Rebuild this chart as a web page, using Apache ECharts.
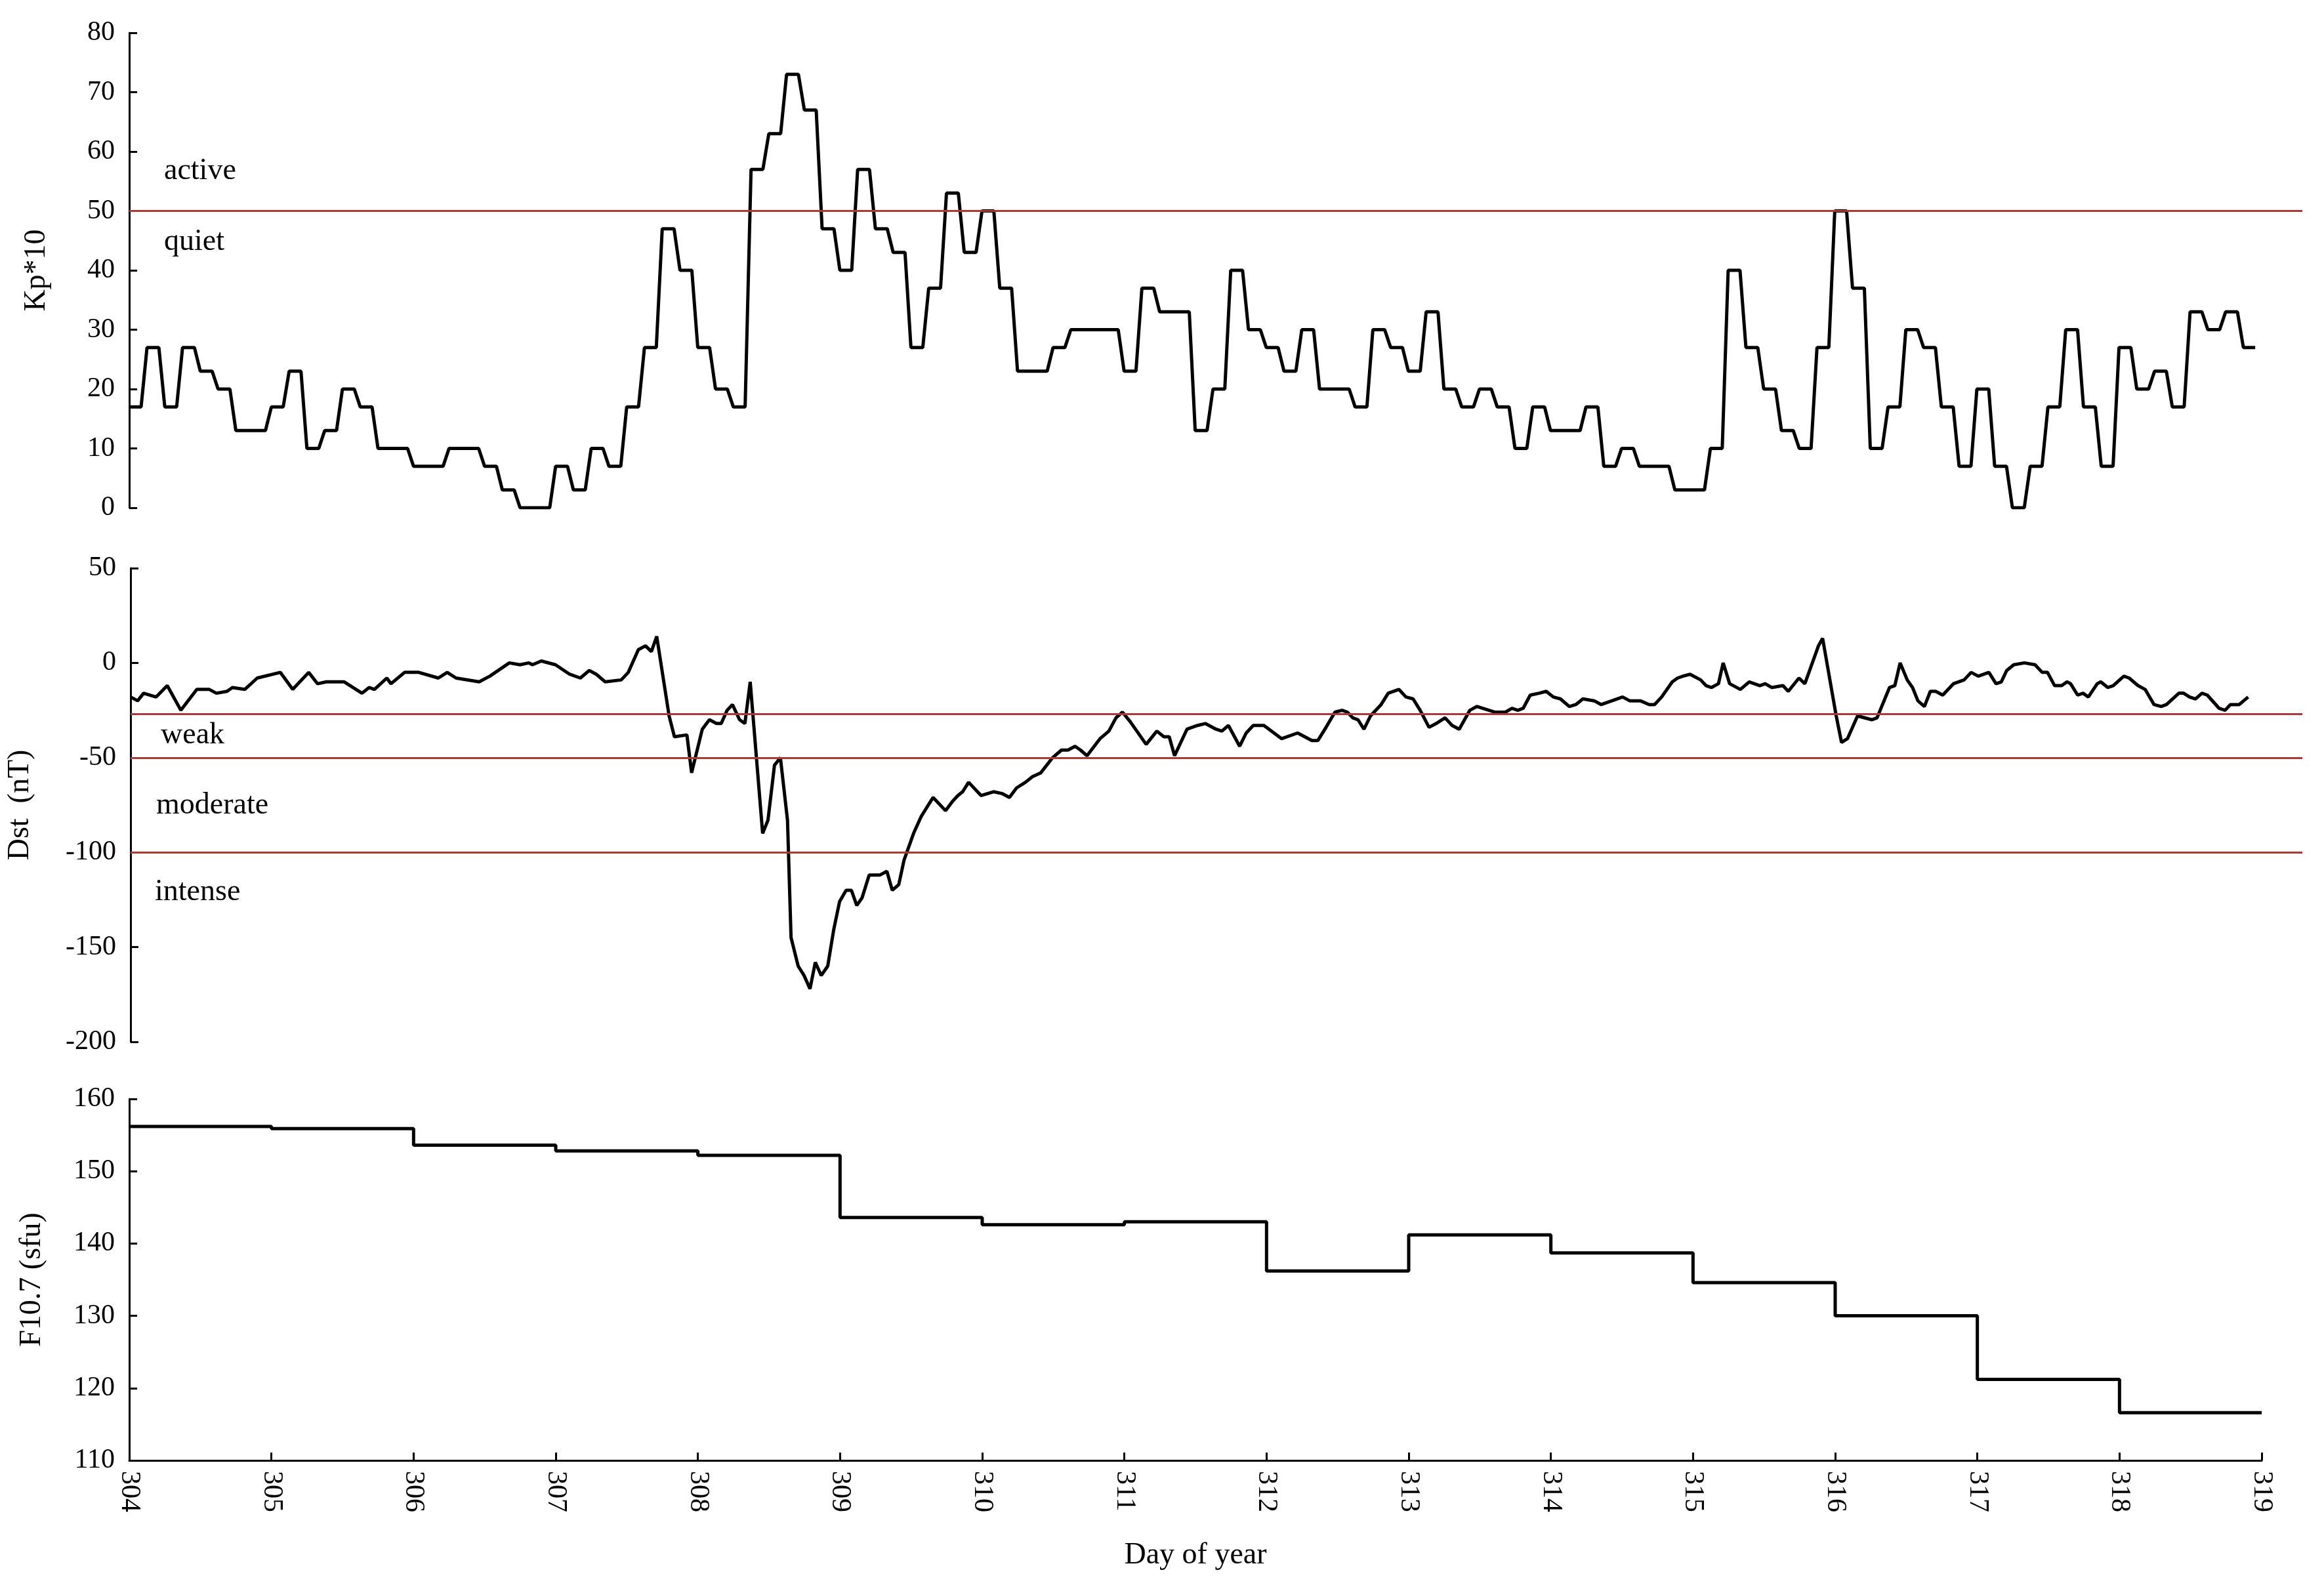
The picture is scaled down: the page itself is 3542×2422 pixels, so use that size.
<!DOCTYPE html>
<html>
<head>
<meta charset="utf-8">
<script src="https://cdn.jsdelivr.net/npm/echarts@6/dist/echarts.min.js"></script>
<style>
  html, body { margin: 0; padding: 0; background: #fff; }
  #chart { width: 3542px; height: 2422px; }
</style>
</head>
<body>
<div id="chart"></div>
<script>
// Kp*10, 3-hourly, days 304..318 (8 values per day)
var kpValues = [
  17,27,17,27,23,20,13,13,
  17,23,10,13,20,17,10,10,
  7,7,10,10,7,3,0,0,
  7,3,10,7,17,27,47,40,
  27,20,17,57,63,73,67,47,
  40,57,47,43,27,37,53,43,
  50,37,23,23,27,30,30,30,
  23,37,33,33,13,20,40,30,
  27,23,30,20,20,17,30,27,
  23,33,20,17,20,17,10,17,
  13,13,17,7,10,7,7,3,
  3,10,40,27,20,13,10,27,
  50,37,10,17,30,27,17,7,
  20,7,0,7,17,30,17,7,
  27,20,23,17,33,30,33,27
];

// Dst (nT): hours since day 304 00:00 and values
var dstHours = [
  0,1.2,2.2,4.3,6.2,8.5,11.2,13.3,14.5,16.3,17.2,19.3,21.4,25.3,27.4,30.1,31.6,33.1,36.1,39.1,
  40.3,41.2,43.3,44,46.3,48.7,52,53.5,55,58.9,60.7,64,65.8,67.3,67.9,69.4,71.8,74.2,76,77.5,
  78.7,80.2,82.9,84.1,85.8,87,88,88.9,91,91.9,94,94.8,96.6,97.8,99,99.8,100.8,101.7,102.9,103.8,
  104.7,106.8,107.7,108.8,109.8,111,111.6,112.8,113.8,114.8,115.7,116.7,117.8,118.8,119.8,120.9,121.8,122.7,123.6,124.8,
  126.6,127.8,128.7,129.8,130.7,132.3,133.6,134.4,135.6,137.7,138.9,139.8,140.6,141.6,143.7,145.8,147.3,148.5,149.7,151.2,
  152.4,153.8,155.8,157.3,158.4,159.6,160.5,161.6,163.8,165.3,166.5,167.6,168.9,171.6,173.4,174.6,175.5,176.4,178.5,180.3,
  181.6,183.4,184.4,185.5,187.4,188.5,189.7,191.5,194.5,197.2,199.6,200.6,202,203.5,204.7,205.6,206.5,207.4,208.4,209.5,
  211.3,212.5,214.3,215.5,216.7,217.9,219.4,220.6,222.1,223.3,224.5,226.3,227.5,230.5,232.3,233.4,234.4,235.3,236.5,238,
  239.2,240.4,241.6,243.1,244.2,245.4,247.3,248.5,250.3,252.1,253.3,255.1,256.6,257.5,258.7,260.5,261.4,262.3,263.5,265.3,
  266.2,267.1,268.3,269.1,270.2,272,273.5,275.3,276.2,277.3,279.2,280.1,281.9,282.9,285.2,285.9,288.2,289.1,290.1,291.8,
  294.2,295.1,297.2,298.1,299,300.2,301.1,302,303.1,304.1,305,306.2,308,309.8,311,312.2,314,315.2,316.1,317,
  318.2,320,321.8,323,323.9,325.1,326.3,327.2,327.8,329,329.9,330.8,332.3,332.9,334.1,335,336.8,337.7,339.2,340.4,
  341.9,343.1,344,346.1,346.9,347.9,348.9,350,350.9,352.9,353.9,354.8,356.3,357.8
];
var dstValues = [
  -18,-20,-16,-18,-12,-25,-14,-14,-16,-15,-13,-14,-8,-5,-14,-5,-11,-10,-10,-16,
  -13,-14,-8,-11,-5,-5,-8,-5,-8,-10,-7,0,-1,0,-1,1,-1,-6,-8,-4,
  -6,-10,-9,-5,7,9,6,14,-28,-39,-38,-58,-35,-30,-32,-32,-25,-22,-30,-32,
  -10,-90,-83,-54,-50,-83,-145,-160,-165,-172,-158,-165,-160,-141,-126,-120,-120,-128,-124,-112,
  -112,-110,-120,-117,-104,-90,-81,-77,-71,-78,-73,-70,-68,-63,-70,-68,-69,-71,-66,-63,
  -60,-58,-50,-46,-46,-44,-46,-49,-40,-36,-29,-26,-31,-43,-36,-39,-39,-49,-35,-33,
  -32,-35,-36,-33,-44,-37,-33,-33,-40,-37,-41,-41,-34,-26,-25,-26,-29,-30,-35,-28,
  -22,-16,-14,-18,-19,-25,-34,-32,-29,-33,-35,-25,-23,-26,-26,-24,-25,-24,-17,-16,
  -15,-18,-19,-23,-22,-19,-20,-22,-20,-18,-20,-20,-22,-22,-18,-10,-8,-7,-6,-9,
  -12,-13,-11,0,-11,-14,-10,-12,-11,-13,-12,-15,-8,-11,9,13,-28,-42,-40,-28,
  -30,-29,-13,-12,0,-9,-13,-20,-23,-15,-15,-17,-11,-9,-5,-7,-5,-11,-10,-4,
  -1,0,-1,-5,-5,-12,-12,-10,-11,-17,-16,-18,-11,-10,-13,-12,-7,-8,-12,-14,
  -22,-23,-22,-16,-16,-18,-19,-16,-17,-24,-25,-22,-22,-18
];

// F10.7 (sfu), daily, days 304..318
var f107Days = [304,305,306,307,308,309,310,311,312,313,314,315,316,317,318];
var f107Values = [156.2,155.9,153.6,152.8,152.2,143.6,142.6,143.0,136.2,141.2,138.7,134.6,130.0,121.2,116.6];

var kpData = [];
kpValues.forEach(function (v, i) {
  for (var k = 0; k < 3; k++) kpData.push([304 + (3 * i + k) / 24, v]);
});
var dstData = dstHours.map(function (h, i) { return [304 + h / 24, dstValues[i]]; });
var f107Data = f107Days.map(function (d, i) { return [d, f107Values[i]]; });
f107Data.push([319, f107Values[f107Values.length - 1]]);

var font = 'Liberation Serif';
var txt = { fontFamily: font, fontSize: 46, color: '#000' };
var red = '#a83a3a';

function yAxisBase(name, min, max, interval, gap) {
  return {
    type: 'value', min: min, max: max, interval: interval,
    name: name, nameLocation: 'middle', nameGap: gap, nameRotate: 90,
    nameTextStyle: { fontFamily: font, fontSize: 46, color: '#000' },
    axisLine: { show: true, lineStyle: { color: '#000', width: 3 } },
    axisTick: { show: true, inside: true, length: 12, lineStyle: { color: '#000', width: 3 } },
    axisLabel: { fontFamily: font, fontSize: 42, color: '#000', margin: 22 },
    splitLine: { show: false }
  };
}
function xHidden(idx) {
  return {
    type: 'value', gridIndex: idx, min: 304, max: 319.29,
    axisLine: { show: false }, axisTick: { show: false },
    axisLabel: { show: false }, splitLine: { show: false }
  };
}
function redLine(vals) {
  return {
    silent: true, symbol: 'none', label: { show: false },
    lineStyle: { color: red, width: 3, type: 'solid' },
    data: vals.map(function (v) { return { yAxis: v }; })
  };
}

var chart = echarts.init(document.getElementById('chart'));
chart.setOption({
  backgroundColor: '#fff',
  animation: false,
  grid: [
    { left: 197, width: 3312, top: 50, height: 724 },
    { left: 197, width: 3312, top: 866, height: 722 },
    { left: 197, width: 3250, top: 1675, height: 551 }
  ],
  xAxis: [
    xHidden(0),
    xHidden(1),
    {
      type: 'value', gridIndex: 2, min: 304, max: 319, interval: 1,
      name: 'Day of year', nameLocation: 'middle', nameGap: 122,
      nameTextStyle: { fontFamily: font, fontSize: 46, color: '#000' },
      axisLine: { show: true, lineStyle: { color: '#000', width: 3 } },
      axisTick: { show: true, inside: true, length: 12, lineStyle: { color: '#000', width: 3 } },
      axisLabel: { fontFamily: font, fontSize: 42, color: '#000', rotate: -90, margin: 16 },
      splitLine: { show: false }
    }
  ],
  yAxis: [
    Object.assign(yAxisBase('Kp*10', 0, 80, 10, 118), { gridIndex: 0 }),
    Object.assign(yAxisBase('Dst  (nT)', -200, 50, 50, 145), { gridIndex: 1 }),
    Object.assign(yAxisBase('F10.7 (sfu)', 110, 160, 10, 125), { gridIndex: 2 })
  ],
  series: [
    {
      type: 'line', xAxisIndex: 0, yAxisIndex: 0, data: kpData,
      showSymbol: false, lineStyle: { color: '#000', width: 5 },
      markLine: redLine([50])
    },
    {
      type: 'line', xAxisIndex: 1, yAxisIndex: 1, data: dstData,
      showSymbol: false, lineStyle: { color: '#000', width: 5 },
      markLine: redLine([-27, -50, -100])
    },
    {
      type: 'line', xAxisIndex: 2, yAxisIndex: 2, data: f107Data, step: 'end',
      showSymbol: false, lineStyle: { color: '#000', width: 5 }
    }
  ],
  graphic: [
    { type: 'text', left: 250, top: 238, style: Object.assign({ text: 'active' }, txt) },
    { type: 'text', left: 250, top: 346, style: Object.assign({ text: 'quiet' }, txt) },
    { type: 'text', left: 245, top: 1098, style: Object.assign({ text: 'weak' }, txt) },
    { type: 'text', left: 238, top: 1205, style: Object.assign({ text: 'moderate' }, txt) },
    { type: 'text', left: 236, top: 1337, style: Object.assign({ text: 'intense' }, txt) }
  ]
});
</script>
</body>
</html>
